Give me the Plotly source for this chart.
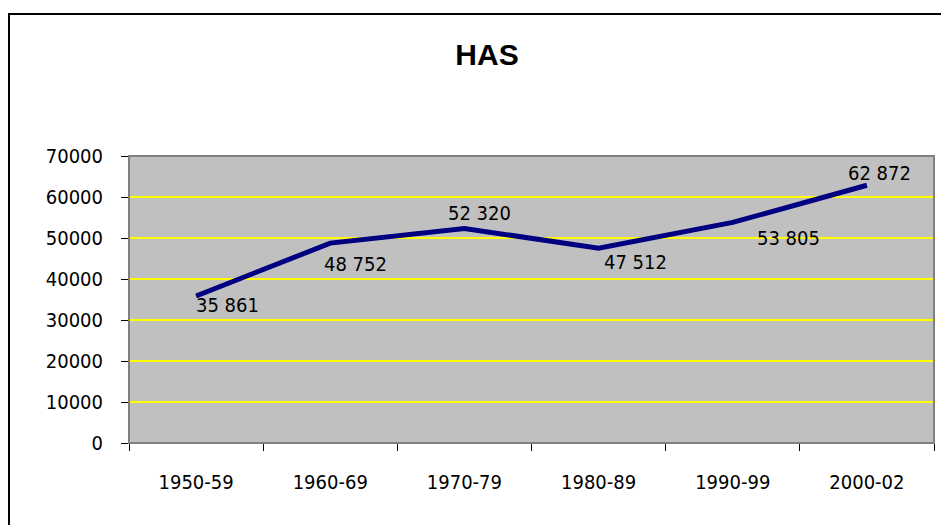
import plotly.graph_objects as go

# data
periods = ["1950-59", "1960-69", "1970-79", "1980-89", "1990-99", "2000-02"]
values = [35861, 48752, 52320, 47512, 53805, 62872]
labels = ["35 861", "48 752", "52 320", "47 512", "53 805", "62 872"]
y_ticks = [0, 10000, 20000, 30000, 40000, 50000, 60000, 70000]

# label offsets (px) relative to each point, Excel-style placement
label_dx = [-2, -8, -18, 3, 22, -21]
label_dy = [-9, -21, 15, -14, -16, 12]

FONT = "DejaVu Sans Condensed, Liberation Sans Narrow, sans-serif"
# page body has an 8px margin, so the figure is laid out 8px in from the window
OFF = 8
W, H = 949 - OFF, 525 - OFF
L, R, T, B = 129 - OFF, 934 - OFF, 156 - OFF, 443 - OFF

fig = go.Figure()
fig.add_trace(go.Scatter(
    x=periods, y=values, mode="lines",
    line=dict(color="#000080", width=5),
    hoverinfo="skip", showlegend=False,
))

for i, (p, v, lab) in enumerate(zip(periods, values, labels)):
    fig.add_annotation(
        x=p, y=v, text=lab, showarrow=False,
        xanchor="left", yanchor="middle",
        xshift=label_dx[i], yshift=label_dy[i],
        font=dict(family=FONT, size=20, color="#000000"),
    )

# plot area frame (gray) and outer chart border
fig.add_shape(type="rect", xref="paper", yref="paper", x0=0, x1=1, y0=0, y1=1,
              line=dict(color="#808080", width=2), layer="above")
fig.add_shape(type="rect", xref="paper", yref="paper",
              x0=(9 - OFF - L) / (R - L), x1=(1000 - L) / (R - L),
              y0=(B - 600) / (B - T), y1=(B - (14 - OFF)) / (B - T),
              line=dict(color="#000000", width=2), layer="above")

fig.update_layout(
    width=W, height=H,
    margin=dict(l=L, r=W - R, t=T, b=H - B),
    paper_bgcolor="white",
    plot_bgcolor="#C0C0C0",
    title=dict(text="<b>HAS</b>", x=(487 - OFF) / W, y=1 - (54 - OFF) / H,
               xanchor="center", yanchor="middle",
               font=dict(family="Liberation Sans, Arial, sans-serif", size=30, color="#000000")),
    xaxis=dict(
        type="category", range=[-0.5, 5.5], tickson="boundaries",
        ticks="outside", ticklen=7, tickcolor="#000000",
        showline=True, linecolor="#000000", linewidth=1,
        showgrid=False, ticklabelstandoff=21,
        tickfont=dict(family=FONT, size=20, color="#000000"),
    ),
    yaxis=dict(
        range=[0, 70000], tickvals=y_ticks, ticktext=[str(t) for t in y_ticks],
        ticks="outside", ticklen=7, tickcolor="#000000",
        showline=True, linecolor="#000000", linewidth=1,
        showgrid=True, gridcolor="#FFFF00", gridwidth=1.6,
        zeroline=False, ticklabelstandoff=14,
        tickfont=dict(family=FONT, size=20, color="#000000"),
    ),
)

fig.write_html("out.html")
